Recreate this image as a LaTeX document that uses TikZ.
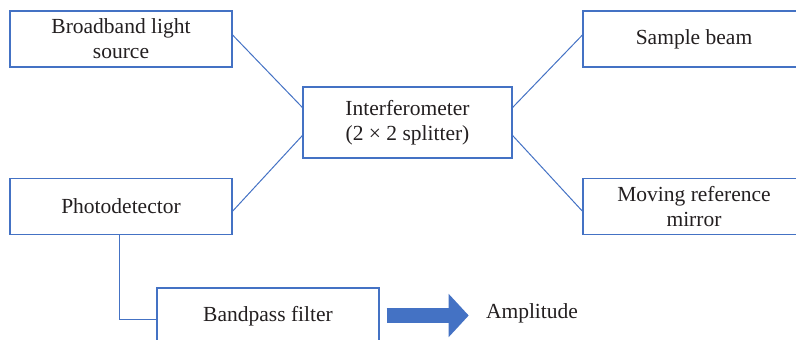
\documentclass[tikz,border=0pt]{standalone}
\usepackage{fontspec}
\setmainfont{Liberation Serif}
\usetikzlibrary{arrows.meta,positioning}

\definecolor{boxblue}{HTML}{4472C4}
\definecolor{inkgray}{HTML}{231F20}

\begin{document}
\begin{tikzpicture}[
            x = 1pt, y = 1pt, % one unit is one pixel
            node distance = 110pt, % vertical gap between stacked boxes
            font = \fontsize{21.5}{25}\selectfont,
            semithick % line style
        ]

        \tikzstyle{block}=[
            draw = boxblue,
            line width = 1.2pt,
            text = inkgray,
            align = center,
            inner sep = 2pt,
            minimum width = 222pt,
            minimum height = 56pt
        ]
        \tikzstyle{link}=[draw = boxblue, line width = 1pt]

        \useasboundingbox (0,0) rectangle (796,340);

        \node[block] (bb) at (121,301) {Broadband light\\source};
        \node[block] (pd) [below=of bb] {Photodetector};
        \node[block, minimum width=209pt, minimum height=71pt] (ifm) at (407.5,217.5) {Interferometer\\(2 × 2 splitter)};
        \node[block] (sb) at (694,301) {Sample beam};
        \node[block] (mrr) [below=of sb] {Moving reference\\mirror};
        \node[block, minimum height=57pt] (bp) at (268,23.5) {Bandpass filter};
        \node[text=inkgray, inner sep=2pt] (amp) at (532,27) {Amplitude};

        \draw[link] ([yshift=4]bb.east) -- ([yshift=15]ifm.west);
        \draw[link] ([yshift=-5]pd.east) -- ([yshift=-13]ifm.west);
        \draw[link] ([yshift=15]ifm.east) -- ([yshift=4]sb.west);
        \draw[link] ([yshift=-13]ifm.east) -- ([yshift=-5]mrr.west);
        \draw[link] ([xshift=-2]pd.south) |- ([yshift=-3]bp.west);

        % block arrow, kept horizontal
        \draw[boxblue, line width=15pt, shorten <=7pt, shorten >=15pt,
              -{Triangle[length=20pt, width=42pt]}] ([yshift=1]bp.east) -- ([yshift=1]bp.east -| amp.west);

    \end{tikzpicture}
\end{document}
